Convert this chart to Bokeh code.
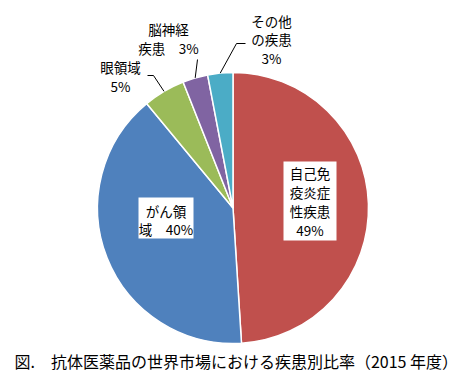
import math
from bokeh.plotting import figure
from bokeh.models import Range1d, ColumnDataSource
from bokeh.core.properties import value
from bokeh.embed import file_html
from bokeh.resources import INLINE

# ---- data ----
categories = ["自己免疫炎症性疾患", "がん領域", "眼領域", "脳神経疾患", "その他の疾患"]
shares = [49, 40, 5, 3, 3]
colors = ["#C0504D", "#4F81BD", "#9BBB59", "#8064A2", "#4BACC6"]
label_lines = [
    ["自己免", "疫炎症", "性疾患", "49%"],
    ["がん領", "域　40%"],
    ["眼領域", "5%"],
    ["脳神経", "疾患　3%"],
    ["その他", "の疾患", "3%"],
]
title_text = "図.　抗体医薬品の世界市場における疾患別比率（2015 年度）"

# ---- layout (image pixel coords, y down) ----
W, H = 469, 380
CX, CY, R = 232.5, 207.5, 135.5
FONT = value("Noto Sans CJK JP")
label_pos = [  # (center x, first line y, line gap)
    (309.5, 172, 19),
    (165.5, 210, 18),
    (120, 66, 19),
    (168, 28, 19),
    (271, 20, 18.5),
]
label_boxes = {0: (283, 336, 161, 240), 1: (138, 193, 197, 238)}
leader_pts = {2: [(147, 75), (153, 75)], 3: [(197, 59)], 4: [(245, 43), (236, 43)]}

p = figure(width=W, height=H, output_backend="svg", toolbar_location=None,
           x_range=Range1d(0, W), y_range=Range1d(-H, 0),
           min_border=0)
p.axis.visible = False
p.grid.visible = False
p.outline_line_color = None
p.background_fill_color = "white"
p.border_fill_color = "white"

starts, ends, mids = [], [], []
cum = 0.0
total = float(sum(shares))
for v in shares:
    s = math.pi / 2 - 2 * math.pi * cum / total
    e = math.pi / 2 - 2 * math.pi * (cum + v) / total
    starts.append(s)
    ends.append(e)
    mids.append((s + e) / 2)
    cum += v

src = ColumnDataSource(dict(start=starts, end=ends, color=colors, cat=categories))
p.wedge(x=CX, y=-CY, radius=R, start_angle="start", end_angle="end",
        direction="clock", fill_color="color", line_color="white", line_width=1.5,
        source=src)

for i, pts in leader_pts.items():
    ax = CX + R * math.cos(mids[i])
    ay = CY - R * math.sin(mids[i])
    xs = [q[0] for q in pts] + [ax]
    ys = [-q[1] for q in pts] + [-ay]
    p.line(xs, ys, line_color="black", line_width=1)

for i, (x0, x1, y0, y1) in label_boxes.items():
    p.quad(left=x0, right=x1, top=-y0, bottom=-y1, fill_color="white", line_color=None)

tx, ty, tt = [], [], []
for lines, (lx, ly, gap) in zip(label_lines, label_pos):
    for k, ln in enumerate(lines):
        tx.append(lx)
        ty.append(-(ly + k * gap))
        tt.append(ln)
p.text(x=tx, y=ty, text=tt, text_font=FONT, text_font_size="13.5px",
       text_align="center", text_baseline="middle", text_color="black")

p.text(x=[14], y=[-360], text=[title_text], text_font=FONT, text_font_size="16px",
       text_align="left", text_baseline="middle", text_color="black")

open("out.html", "w").write(file_html(p, INLINE))
